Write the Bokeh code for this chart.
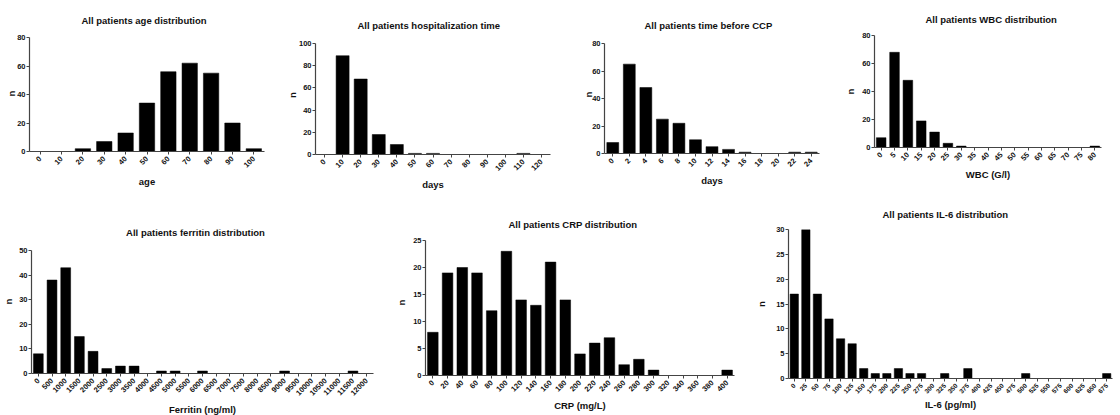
import math
from bokeh.plotting import figure
from bokeh.models import ColumnDataSource, Range1d, SingleIntervalTicker, Label
from bokeh.layouts import row, column
from bokeh.embed import file_html
from bokeh.resources import INLINE

# ---------------- data ----------------
age_bins = ["0", "10", "20", "30", "40", "50", "60", "70", "80", "90", "100"]
age_counts = [0, 0, 2, 7, 13, 34, 56, 62, 55, 20, 2]

hosp_bins = ["0", "10", "20", "30", "40", "50", "60", "70", "80", "90", "100", "110", "120"]
hosp_counts = [0, 89, 68, 18, 9, 1, 1, 0, 0, 0, 0, 1, 0]

ccp_bins = ["0", "2", "4", "6", "8", "10", "12", "14", "16", "18", "20", "22", "24"]
ccp_counts = [8, 65, 48, 25, 22, 10, 5, 3, 1, 0, 0, 1, 1]

wbc_bins = ["0", "5", "10", "15", "20", "25", "30", "35", "40", "45", "50", "55",
            "60", "65", "70", "75", "80"]
wbc_counts = [7, 68, 48, 19, 11, 3, 1, 0, 0, 0, 0, 0, 0, 0, 0, 0, 1]

ferritin_bins = ["0", "500", "1000", "1500", "2000", "2500", "3000", "3500", "4000",
                 "4500", "5000", "5500", "6000", "6500", "7000", "7500", "8000", "8500",
                 "9000", "9500", "10000", "10500", "11000", "11500", "12000"]
ferritin_counts = [8, 38, 43, 15, 9, 2, 3, 3, 0, 1, 1, 0, 1, 0, 0, 0, 0, 0, 1, 0, 0, 0, 0, 1, 0]

crp_bins = ["0", "20", "40", "60", "80", "100", "120", "140", "160", "180", "200", "220",
            "240", "260", "280", "300", "320", "340", "360", "380", "400"]
crp_counts = [8, 19, 20, 19, 12, 23, 14, 13, 21, 14, 4, 6, 7, 2, 3, 1, 0, 0, 0, 0, 1]

il6_bins = ["0", "25", "50", "75", "100", "125", "150", "175", "200", "225", "250", "275",
            "300", "325", "350", "375", "400", "425", "450", "475", "500", "525", "550",
            "575", "600", "625", "650", "675"]
il6_counts = [17, 30, 17, 12, 8, 7, 2, 1, 1, 2, 1, 1, 0, 1, 0, 2, 0, 0, 0, 0, 1, 0, 0, 0, 0, 0, 0, 1]

# ---------------- styling / layout ----------------
FONT = "Liberation Sans"
AXIS_COLOR = "#444444"
TEXT_COLOR = "#111111"
TITLE_SIZE = "9.5px"
LABEL_SIZE = "9.5px"


def panel(title, cats, counts, xlabel, ymax, ystep,
          fig_x0, fig_x1, row_y0, row_h, frame_top,
          left, right, ytop_px, bottom_px, title_spec,
          n_standoff=4, xtick_size="7.5px", xlabel_standoff=3):
    bt = frame_top - row_y0
    fw = right - left
    fh = bottom_px - frame_top
    bl = left - fig_x0
    br = fig_x1 - right
    bb = row_h - bt - fh
    y_end = ymax * fh / (bottom_px - ytop_px)

    p = figure(x_range=cats, y_range=Range1d(0, y_end), frame_width=fw, frame_height=fh,
               min_border_left=bl, min_border_right=br, min_border_top=bt,
               min_border_bottom=bb, toolbar_location=None, output_backend="svg")
    src = ColumnDataSource(dict(x=cats, top=counts))
    p.vbar(x="x", top="top", width=0.72, source=src, fill_color="black",
           line_color="black", line_width=0.5)
    p.outline_line_color = None
    p.grid.visible = False
    p.background_fill_color = "white"
    p.border_fill_color = "white"

    kind, a, b = title_spec
    if kind == "title":
        p.title.text = title
        p.title.align = "left"
        p.title.offset = b
        p.title.text_font = FONT
        p.title.text_font_size = TITLE_SIZE
        p.title.text_font_style = "bold"
        p.title.text_color = TEXT_COLOR
        p.title.standoff = a
    else:
        title_y = y_end * (bottom_px - a) / fh
        p.add_layout(Label(x=len(cats) / 2, y=title_y, text=title, x_offset=b,
                           text_align="center", text_baseline="middle",
                           text_font=FONT, text_font_size=TITLE_SIZE,
                           text_font_style="bold", text_color=TEXT_COLOR))

    p.yaxis.ticker = SingleIntervalTicker(interval=ystep, num_minor_ticks=0)
    p.yaxis.bounds = (0, ymax)
    for ax in (p.xaxis[0], p.yaxis[0]):
        ax.axis_line_color = AXIS_COLOR
        ax.axis_line_width = 1.2
        ax.major_tick_line_color = AXIS_COLOR
        ax.major_tick_in = 0
        ax.major_tick_out = 3
        ax.minor_tick_line_color = None
        ax.major_label_text_font = FONT
        ax.major_label_text_font_size = "7.5px"
        ax.major_label_text_font_style = "bold"
        ax.major_label_text_color = TEXT_COLOR
        ax.major_label_standoff = 1
        ax.axis_label_text_font = FONT
        ax.axis_label_text_font_size = LABEL_SIZE
        ax.axis_label_text_font_style = "bold"
        ax.axis_label_text_color = TEXT_COLOR
    p.yaxis.axis_label = "n"
    p.yaxis.axis_label_standoff = n_standoff
    p.xaxis.major_label_standoff = 3
    p.xaxis.major_label_text_font_size = xtick_size
    p.xaxis.axis_label_standoff = xlabel_standoff
    p.xaxis.axis_label = xlabel
    p.xaxis.major_label_orientation = math.pi / 4
    p.x_range.range_padding = 0
    return p


R1_Y, R1_H, R1_TOP = 0, 197, 35
R2_Y, R2_H, R2_TOP = 197, 216, 229

p1 = panel("All patients age distribution", age_bins, age_counts, "age", 80, 20,
           8, 290, R1_Y, R1_H, R1_TOP, 37, 272, 37, 151, ("title", 20, 52), n_standoff=-3)
p2 = panel("All patients hospitalization time", hosp_bins, hosp_counts, "days", 100, 20,
           290, 572, R1_Y, R1_H, R1_TOP, 323, 558, 43, 154, ("title", 9, 42), n_standoff=-2)
p3 = panel("All patients time before CCP", ccp_bins, ccp_counts, "days", 80, 20,
           572, 850, R1_Y, R1_H, R1_TOP, 612, 827, 43, 153, ("title", 9, 40), n_standoff=-5)
p4 = panel("All patients WBC distribution", wbc_bins, wbc_counts, "WBC (G/l)", 80, 20,
           850, 1108, R1_Y, R1_H, R1_TOP, 879, 1106, 35, 147, ("title", 22, 51), n_standoff=3)

p5 = panel("All patients ferritin distribution", ferritin_bins, ferritin_counts,
           "Ferritin (ng/ml)", 50, 10, 8, 395, R2_Y, R2_H, R2_TOP, 33, 375, 250, 373,
           ("label", 232, -7), n_standoff=2)
p6 = panel("All patients CRP distribution", crp_bins, crp_counts, "CRP (mg/L)", 25, 5,
           395, 755, R2_Y, R2_H, R2_TOP, 427, 736, 240, 375, ("title", 0, 83), n_standoff=3)
p7 = panel("All patients IL-6 distribution", il6_bins, il6_counts, "IL-6 (pg/ml)", 30, 5,
           755, 1108, R2_Y, R2_H, R2_TOP, 782, 1106, 229, 378, ("title", 19, 94),
           n_standoff=6, xtick_size="6.5px", xlabel_standoff=0)

layout = column(row(p1, p2, p3, p4, spacing=0), row(p5, p6, p7, spacing=0), spacing=0)

open("out.html", "w").write(file_html(layout, INLINE))
